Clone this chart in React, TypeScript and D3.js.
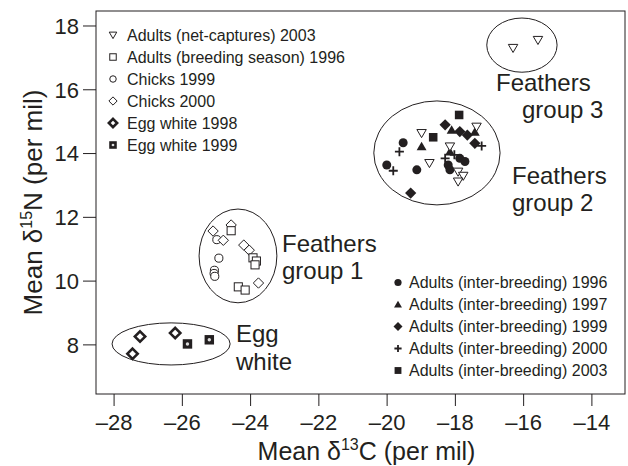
import React from 'react';
import * as d3 from 'd3';

const W = 628;
const H = 466;
const margin = {left: 96, right: 3, top: 11, bottom: 72};

const xTicks = [-28, -26, -24, -22, -20, -18, -16, -14];
const yTicks = [8, 10, 12, 14, 16, 18];

// open symbols (feathers / egg white)
const adultsNet2003 = [[-18.99, 14.64], [-17.38, 14.84], [-18.16, 14.22], [-18.76, 13.70], [-17.92, 13.43], [-17.77, 13.30], [-17.92, 13.12], [-16.31, 17.31], [-15.58, 17.56]];
const adultsBreeding1996 = [[-24.57, 11.58], [-23.93, 10.73], [-23.83, 10.63], [-23.87, 10.51], [-24.36, 9.82], [-24.16, 9.72]];
const chicks1999 = [[-24.99, 11.30], [-24.93, 10.72], [-25.06, 10.34], [-25.07, 10.24], [-25.05, 10.15]];
const chicks2000 = [[-25.10, 11.57], [-24.57, 11.76], [-24.80, 11.28], [-24.20, 11.13], [-24.04, 10.97], [-23.77, 9.94]];
const eggWhite1998 = [[-27.24, 8.26], [-26.21, 8.37], [-27.46, 7.72]];
const eggWhite1999 = [[-25.85, 8.03], [-25.21, 8.16]];

// filled symbols (adults inter-breeding)
const inter1996 = [[-20.01, 13.64], [-19.53, 14.34], [-19.13, 13.49], [-17.87, 13.85], [-17.72, 13.75], [-18.21, 13.64], [-18.16, 13.49]];
const inter1997 = [[-18.99, 14.22], [-18.11, 14.74], [-17.43, 14.68], [-18.16, 14.06]];
const inter1999 = [[-18.30, 14.90], [-17.87, 14.69], [-17.65, 14.58], [-17.43, 14.32], [-19.31, 12.76]];
const inter2000 = [[-19.82, 13.46], [-19.64, 14.06], [-17.23, 14.24], [-18.30, 13.85], [-18.03, 13.96]];
const inter2003 = [[-17.89, 15.21], [-18.65, 14.51]];

// group ellipses (centre and radii in per mil)
const ellipseCx = [-24.37, -18.54, -16.05, -26.33];
const ellipseCy = [10.79, 14.02, 17.40, 8.03];
const ellipseRx = [1.14, 1.85, 1.03, 1.73];
const ellipseRy = [1.47, 1.63, 0.85, 0.66];

const legendTop = [
  {kind: 'triDown', label: 'Adults (net-captures) 2003'},
  {kind: 'squareOpen', label: 'Adults (breeding season) 1996'},
  {kind: 'circleOpen', label: 'Chicks 1999'},
  {kind: 'diamondOpen', label: 'Chicks 2000'},
  {kind: 'eggDiamond', label: 'Egg white 1998'},
  {kind: 'eggSquare', label: 'Egg white 1999'},
];
const legendBottom = [
  {kind: 'circle', label: 'Adults (inter-breeding) 1996'},
  {kind: 'tri', label: 'Adults (inter-breeding) 1997'},
  {kind: 'diamond', label: 'Adults (inter-breeding) 1999'},
  {kind: 'plus', label: 'Adults (inter-breeding) 2000'},
  {kind: 'square', label: 'Adults (inter-breeding) 2003'},
];

const series = [
  {kind: 'circle', data: inter1996},
  {kind: 'diamond', data: inter1999},
  {kind: 'square', data: inter2003},
  {kind: 'tri', data: inter1997},
  {kind: 'plus', data: inter2000},
  {kind: 'triDown', data: adultsNet2003},
  {kind: 'circleOpen', data: chicks1999},
  {kind: 'diamondOpen', data: chicks2000},
  {kind: 'squareOpen', data: adultsBreeding1996},
  {kind: 'eggDiamond', data: eggWhite1998},
  {kind: 'eggSquare', data: eggWhite1999},
];

const ink = '#231f20';
const font = '"Liberation Sans", Arial, Helvetica, sans-serif';

function Marker({kind, x, y, s}: {kind: string; x: number; y: number; s: number}) {
  switch (kind) {
    case 'circle':
      return <circle cx={x} cy={y} r={s * 1.0} fill={ink} />;
    case 'circleOpen':
      return <circle cx={x} cy={y} r={s * 0.9} fill="#fff" stroke={ink} strokeWidth={1} />;
    case 'tri':
      return <path d={`M${x - s * 1.1},${y + s * 0.85}L${x + s * 1.1},${y + s * 0.85}L${x},${y - s * 1.05}Z`} fill={ink} />;
    case 'triDown':
      return <path d={`M${x - s * 1.05},${y - s * 0.8}L${x + s * 1.05},${y - s * 0.8}L${x},${y + s}Z`} fill="#fff" stroke={ink} strokeWidth={1} />;
    case 'square':
      return <rect x={x - s * 0.95} y={y - s * 0.95} width={s * 1.9} height={s * 1.9} fill={ink} />;
    case 'squareOpen':
      return <rect x={x - s * 0.9} y={y - s * 0.9} width={s * 1.8} height={s * 1.8} fill="#fff" stroke={ink} strokeWidth={1} />;
    case 'diamond':
      return <path d={`M${x},${y - s * 1.25}L${x + s * 1.25},${y}L${x},${y + s * 1.25}L${x - s * 1.25},${y}Z`} fill={ink} />;
    case 'diamondOpen':
      return <path d={`M${x},${y - s * 1.15}L${x + s * 1.15},${y}L${x},${y + s * 1.15}L${x - s * 1.15},${y}Z`} fill="#fff" stroke={ink} strokeWidth={1} />;
    case 'plus':
      return <path d={`M${x - s},${y}L${x + s},${y}M${x},${y - s}L${x},${y + s}`} stroke={ink} strokeWidth={1.8} />;
    case 'eggDiamond':
      return <path d={`M${x},${y - s * 1.15}L${x + s * 1.15},${y}L${x},${y + s * 1.15}L${x - s * 1.15},${y}Z`} fill="#fff" stroke={ink} strokeWidth={2.6} />;
    case 'eggSquare':
      return (
        <g>
          <rect x={x - s * 1.05} y={y - s * 1.05} width={s * 2.1} height={s * 2.1} fill={ink} />
          <circle cx={x} cy={y} r={s * 0.38} fill="#ddd" />
        </g>
      );
    default:
      return null;
  }
}

export default function App() {
  const x = d3.scaleLinear().domain([-28.53, -13.03]).range([margin.left, W - margin.right]);
  const y = d3.scaleLinear().domain([6.46, 18.47]).range([H - margin.bottom, margin.top]);
  const [x0, x1] = x.range();
  const [y0, y1] = y.range();

  return (
    <svg width={W} height={H} style={{position: 'absolute', left: 0, top: 0, background: '#fff'}} fontFamily={font}>
      <rect x={x0} y={y1} width={x1 - x0} height={y0 - y1} fill="none" stroke={ink} strokeWidth={1} />

      {xTicks.map(t => (
        <g key={'x' + t}>
          <line x1={x(t)} x2={x(t)} y1={y0} y2={y0 + 12} stroke={ink} />
          <text x={x(t)} y={y0 + 36} textAnchor="middle" fontSize={22} fill={ink}>{'\u2013' + Math.abs(t)}</text>
        </g>
      ))}
      {yTicks.map(t => (
        <g key={'y' + t}>
          <line x1={x0 - 13} x2={x0} y1={y(t)} y2={y(t)} stroke={ink} />
          <text x={x0 - 17} y={y(t)} dy="0.36em" textAnchor="end" fontSize={22} fill={ink}>{t}</text>
        </g>
      ))}

      <text x={(x0 + x1) / 2 + 6} y={460} textAnchor="middle" fontSize={25} fill={ink}>
        Mean δ<tspan fontSize={16} dy={-10}>13</tspan><tspan dy={10}>C (per mil)</tspan>
      </text>
      <text transform={`translate(42,${(y0 + y1) / 2}) rotate(-90)`} textAnchor="middle" fontSize={26} fill={ink}>
        Mean δ<tspan fontSize={16} dy={-10}>15</tspan><tspan dy={10}>N (per mil)</tspan>
      </text>

      {ellipseCx.map((cx, i) => (
        <ellipse key={'e' + i} cx={x(cx)} cy={y(ellipseCy[i])}
          rx={x(cx + ellipseRx[i]) - x(cx)} ry={y(ellipseCy[i]) - y(ellipseCy[i] + ellipseRy[i])}
          fill="none" stroke={ink} strokeWidth={1} />
      ))}

      {series.map(s => s.data.map((d, i) => (
        <Marker key={s.kind + i} kind={s.kind} x={x(d[0])} y={y(d[1])} s={4.5} />
      )))}

      <g fontSize={24} fill={ink}>
        <text x={282} y={252}>Feathers</text>
        <text x={282} y={279}>group 1</text>
        <text x={512} y={184}>Feathers</text>
        <text x={512} y={211}>group 2</text>
        <text x={496} y={91}>Feathers</text>
        <text x={522} y={118}>group 3</text>
        <text x={236} y={342}>Egg</text>
        <text x={236} y={370}>white</text>
      </g>

      {legendTop.map((l, i) => (
        <g key={'lt' + i}>
          <Marker kind={l.kind} x={113} y={35 + i * 22} s={3.6} />
          <text x={127} y={35 + i * 22} dy="0.36em" fontSize={16} fill={ink}>{l.label}</text>
        </g>
      ))}
      {legendBottom.map((l, i) => (
        <g key={'lb' + i}>
          <Marker kind={l.kind} x={398} y={282.5 + i * 22} s={3.6} />
          <text x={409} y={282.5 + i * 22} dy="0.36em" fontSize={16} fill={ink}>{l.label}</text>
        </g>
      ))}
    </svg>
  );
}
